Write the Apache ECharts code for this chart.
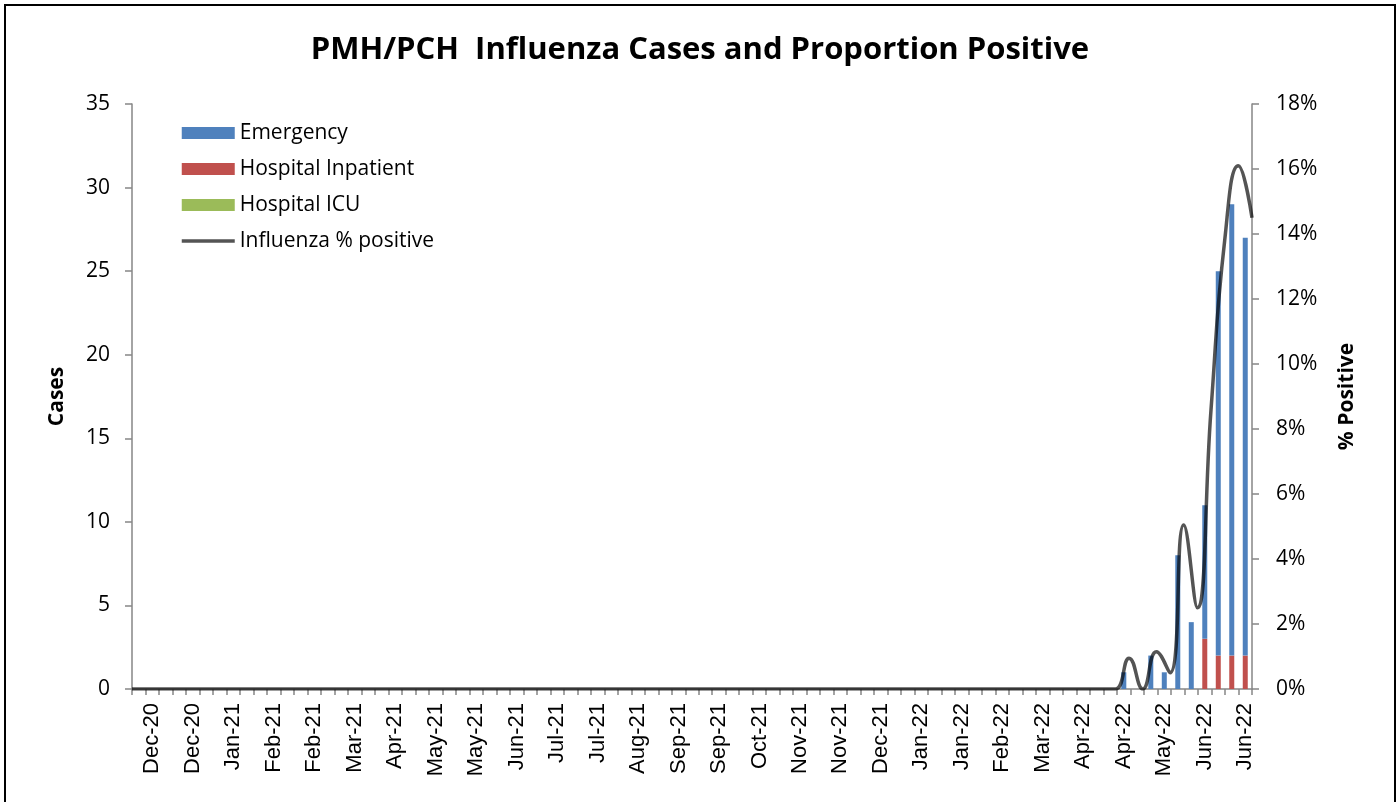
<!DOCTYPE html>
<html>
<head>
<meta charset="utf-8">
<title>PMH/PCH Influenza Cases and Proportion Positive</title>
<script src="https://cdn.jsdelivr.net/npm/echarts@6/dist/echarts.min.js"></script>
<style>
  html, body { margin: 0; padding: 0; background: #fff; }
  #main { width: 1400px; height: 802px; }
</style>
</head>
<body>
<div id="main"></div>
<script>
// weekly categories, Nov-20 .. Jun-22 (83 weeks)
var weeks = [
  'Nov-20',
  'Dec-20', 'Dec-20', 'Dec-20', 'Dec-20',
  'Jan-21', 'Jan-21', 'Jan-21', 'Jan-21', 'Jan-21',
  'Feb-21', 'Feb-21', 'Feb-21', 'Feb-21',
  'Mar-21', 'Mar-21', 'Mar-21', 'Mar-21',
  'Apr-21', 'Apr-21', 'Apr-21', 'Apr-21',
  'May-21', 'May-21', 'May-21', 'May-21', 'May-21',
  'Jun-21', 'Jun-21', 'Jun-21', 'Jun-21',
  'Jul-21', 'Jul-21', 'Jul-21', 'Jul-21',
  'Aug-21', 'Aug-21', 'Aug-21', 'Aug-21', 'Aug-21',
  'Sep-21', 'Sep-21', 'Sep-21', 'Sep-21',
  'Oct-21', 'Oct-21', 'Oct-21', 'Oct-21', 'Oct-21',
  'Nov-21', 'Nov-21', 'Nov-21', 'Nov-21',
  'Dec-21', 'Dec-21', 'Dec-21', 'Dec-21',
  'Jan-22', 'Jan-22', 'Jan-22', 'Jan-22', 'Jan-22',
  'Feb-22', 'Feb-22', 'Feb-22', 'Feb-22',
  'Mar-22', 'Mar-22', 'Mar-22', 'Mar-22',
  'Apr-22', 'Apr-22', 'Apr-22', 'Apr-22',
  'May-22', 'May-22', 'May-22', 'May-22', 'May-22',
  'Jun-22', 'Jun-22', 'Jun-22', 'Jun-22'
];

var emergency = [
  0, 0, 0, 0, 0, 0, 0, 0, 0, 0,
  0, 0, 0, 0, 0, 0, 0, 0, 0, 0,
  0, 0, 0, 0, 0, 0, 0, 0, 0, 0,
  0, 0, 0, 0, 0, 0, 0, 0, 0, 0,
  0, 0, 0, 0, 0, 0, 0, 0, 0, 0,
  0, 0, 0, 0, 0, 0, 0, 0, 0, 0,
  0, 0, 0, 0, 0, 0, 0, 0, 0, 0,
  0, 0, 0, 1, 0, 2, 1, 8, 4, 8,
  23, 27, 25
];

var inpatient = [
  0, 0, 0, 0, 0, 0, 0, 0, 0, 0,
  0, 0, 0, 0, 0, 0, 0, 0, 0, 0,
  0, 0, 0, 0, 0, 0, 0, 0, 0, 0,
  0, 0, 0, 0, 0, 0, 0, 0, 0, 0,
  0, 0, 0, 0, 0, 0, 0, 0, 0, 0,
  0, 0, 0, 0, 0, 0, 0, 0, 0, 0,
  0, 0, 0, 0, 0, 0, 0, 0, 0, 0,
  0, 0, 0, 0, 0, 0, 0, 0, 0, 3,
  2, 2, 2
];

var icu = [
  0, 0, 0, 0, 0, 0, 0, 0, 0, 0,
  0, 0, 0, 0, 0, 0, 0, 0, 0, 0,
  0, 0, 0, 0, 0, 0, 0, 0, 0, 0,
  0, 0, 0, 0, 0, 0, 0, 0, 0, 0,
  0, 0, 0, 0, 0, 0, 0, 0, 0, 0,
  0, 0, 0, 0, 0, 0, 0, 0, 0, 0,
  0, 0, 0, 0, 0, 0, 0, 0, 0, 0,
  0, 0, 0, 0, 0, 0, 0, 0, 0, 0,
  0, 0, 0
];

// influenza % positive (percent)
var pctPositive = [
  0, 0, 0, 0, 0, 0, 0, 0, 0, 0,
  0, 0, 0, 0, 0, 0, 0, 0, 0, 0,
  0, 0, 0, 0, 0, 0, 0, 0, 0, 0,
  0, 0, 0, 0, 0, 0, 0, 0, 0, 0,
  0, 0, 0, 0, 0, 0, 0, 0, 0, 0,
  0, 0, 0, 0, 0, 0, 0, 0, 0, 0,
  0, 0, 0, 0, 0, 0, 0, 0, 0, 0,
  0, 0, 0, 0.95, 0, 1.15, 0.5, 5.05, 2.5, 8.6,
  13.8, 16.1, 14.5
];

var axisGray = '#868686';
var lineGray = 'rgba(0,0,0,0.67)';
var font = 'Open Sans';

var myChart = echarts.init(document.getElementById('main'));
myChart.setOption({
  animation: false,
  backgroundColor: '#fff',
  title: {
    text: 'PMH/PCH  Influenza Cases and Proportion Positive',
    left: 'center',
    top: 30,
    textStyle: { fontFamily: font, fontWeight: 'bold', fontSize: 31, color: '#000' }
  },
  graphic: [{
    type: 'rect',
    shape: { x: 5, y: 5, width: 1390, height: 810 },
    style: { fill: 'none', stroke: '#000', lineWidth: 2 },
    silent: true
  }],
  legend: {
    orient: 'vertical',
    left: 175,
    top: 117,
    itemWidth: 53,
    itemHeight: 12,
    itemGap: 14,
    textStyle: { fontFamily: font, fontSize: 21, color: '#000', lineHeight: 22 },
    data: [
      { name: 'Emergency', icon: 'rect' },
      { name: 'Hospital Inpatient', icon: 'rect' },
      { name: 'Hospital ICU', icon: 'rect' },
      {
        name: 'Influenza % positive',
        itemStyle: { opacity: 0 },
        lineStyle: { color: lineGray, width: 3.5 }
      }
    ]
  },
  grid: { left: 132, right: 148, top: 104, bottom: 113, outerBoundsMode: 'none' },
  xAxis: [{
    type: 'category',
    data: weeks,
    boundaryGap: true,
    axisLine: { lineStyle: { color: axisGray, width: 1.5 } },
    axisTick: { show: true, interval: 0, length: 6, lineStyle: { color: axisGray, width: 1.5 } },
    axisLabel: {
      interval: function (i) { return i % 3 === 1; },
      rotate: 90,
      margin: 14,
      fontFamily: 'Liberation Sans',
      fontSize: 22,
      color: '#000'
    },
    splitLine: { show: false }
  }, {
    type: 'category',
    data: weeks,
    boundaryGap: false,
    show: false
  }],
  yAxis: [{
    type: 'value',
    min: 0,
    max: 35,
    interval: 5,
    name: 'Cases',
    nameLocation: 'middle',
    nameRotate: 90,
    nameGap: 64,
    nameTextStyle: { fontFamily: font, fontWeight: 'bold', fontSize: 21, color: '#000' },
    axisLine: { show: true, lineStyle: { color: axisGray, width: 1.5 } },
    axisTick: { show: true, length: 7, lineStyle: { color: axisGray, width: 1.5 } },
    axisLabel: { fontFamily: font, fontSize: 21, color: '#000', margin: 22 },
    splitLine: { show: false }
  }, {
    type: 'value',
    position: 'right',
    min: 0,
    max: 18,
    interval: 2,
    name: '% Positive',
    nameLocation: 'middle',
    nameRotate: 90,
    nameGap: 85,
    nameTextStyle: { fontFamily: font, fontWeight: 'bold', fontSize: 21, color: '#000' },
    axisLine: { show: true, lineStyle: { color: axisGray, width: 1.5 } },
    axisTick: { show: true, length: 7, lineStyle: { color: axisGray, width: 1.5 } },
    axisLabel: { fontFamily: font, fontSize: 21, color: '#000', margin: 24, formatter: '{value}%' },
    splitLine: { show: false }
  }],
  series: [{
    name: 'Hospital Inpatient',
    type: 'bar',
    stack: 'cases',
    barWidth: 5,
    itemStyle: { color: '#C0504D' },
    data: inpatient
  }, {
    name: 'Hospital ICU',
    type: 'bar',
    stack: 'cases',
    barWidth: 5,
    itemStyle: { color: '#9BBB59' },
    data: icu
  }, {
    name: 'Emergency',
    type: 'bar',
    stack: 'cases',
    barWidth: 5,
    itemStyle: { color: '#4F81BD' },
    data: emergency
  }, {
    name: 'Influenza % positive',
    type: 'line',
    xAxisIndex: 1,
    yAxisIndex: 1,
    smooth: 0.5,
    symbol: 'none',
    lineStyle: { color: lineGray, width: 3.5 },
    itemStyle: { color: lineGray },
    data: pctPositive
  }]
});
</script>
</body>
</html>
